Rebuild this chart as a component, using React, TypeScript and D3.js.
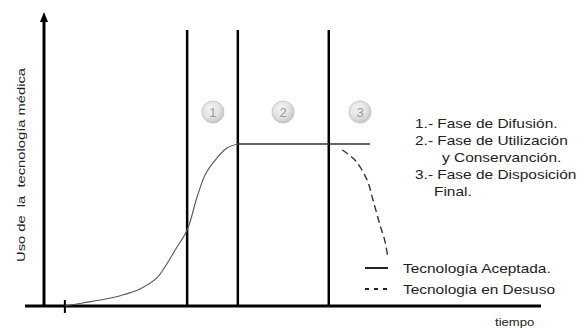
import React from "react";
import * as d3 from "d3";

// time (0-100) vs usage (0-100, plateau = 100)
const phaseBoundaries = [28.8, 39.0, 57.3];
const phaseLabels = ["1", "2", "3"];
const phaseMarkerTimes = [34.0, 48.1, 63.6];

const acceptedTime = [4.2, 7.8, 11.3, 15.5, 19.3, 22.7, 24.7, 26.4, 28.8, 30.8, 32.4, 34.0, 36.8, 39.0];
const acceptedUse = [0, 1.9, 3.7, 6.5, 10.5, 17.3, 25.9, 34.6, 46.9, 67.3, 80.9, 88.3, 97.5, 100];
const plateauTime = [39.0, 65.6];
const plateauUse = [100, 100];
const disuseTime = [60.0, 62.6, 65.0, 66.2, 67.6, 68.6, 69.2];
const disuseUse = [96.3, 90, 77.8, 65.4, 50, 40, 29.6];

const phaseTexts = [
  { t: "1.- Fase de Difusión.", dx: 0 },
  { t: "2.- Fase de Utilización", dx: 0 },
  { t: "y Conservanción.", dx: 27 },
  { t: "3.- Fase de Disposición", dx: 0 },
  { t: "Final.", dx: 19 },
];
const legendLabels = ["Tecnología Aceptada.", "Tecnologia en Desuso"];
const yLabel = "Uso de  la  tecnología médica";
const xLabel = "tiempo";

export default function App() {
  const W = 584, H = 328;
  const x = d3.scaleLinear().domain([0, 100]).range([44, 541]);
  const y = d3.scaleLinear().domain([0, 100]).range([306, 144]);
  const line = d3
    .line<[number, number]>()
    .x((d) => x(d[0]))
    .y((d) => y(d[1]))
    .curve(d3.curveCatmullRom.alpha(0.5));
  const accepted = acceptedTime.map((t, i) => [t, acceptedUse[i]] as [number, number]);
  const plateau = plateauTime.map((t, i) => [t, plateauUse[i]] as [number, number]);
  const disuse = disuseTime.map((t, i) => [t, disuseUse[i]] as [number, number]);
  const font = "'Liberation Sans', Arial, sans-serif";
  const ink = "#222";
  const sx = 1.19;

  return (
    <svg width={W} height={H} style={{ position: "absolute", left: 0, top: 0 }} fontFamily={font}>
      <defs>
        <radialGradient id="circ" cx="40%" cy="35%" r="70%">
          <stop offset="0%" stopColor="#f6f6f6" />
          <stop offset="60%" stopColor="#e0e0e0" />
          <stop offset="100%" stopColor="#c0c0c0" />
        </radialGradient>
      </defs>
      <rect width={W} height={H} fill="#fff" />
      {/* axes */}
      <line x1={25} x2={541} y1={306} y2={306} stroke="#000" strokeWidth={3} />
      <line x1={x(0)} x2={x(0)} y1={306} y2={20} stroke="#000" strokeWidth={3} />
      <path d={`M${x(0) - 4},22 L${x(0)},12 L${x(0) + 4},22 Z`} fill="#000" />
      {/* small start cross */}
      <line x1={x(acceptedTime[0])} x2={x(acceptedTime[0])} y1={300} y2={313} stroke="#000" strokeWidth={2} />
      {/* phase boundaries */}
      {phaseBoundaries.map((t, i) => (
        <line key={i} x1={x(t)} x2={x(t)} y1={30} y2={306} stroke="#000" strokeWidth={2.5} />
      ))}
      {/* phase markers */}
      {phaseMarkerTimes.map((t, i) => (
        <g key={i}>
          <circle cx={x(t)} cy={112} r={11} fill="url(#circ)" stroke="#c8c8c8" strokeWidth={1} />
          <text x={x(t)} y={112} dy="0.36em" textAnchor="middle" fontSize={13} fill="#999">
            {phaseLabels[i]}
          </text>
        </g>
      ))}
      {/* curves */}
      <path d={line(accepted) || ""} fill="none" stroke="#555" strokeWidth={1.1} />
      <path d={line(plateau) || ""} fill="none" stroke="#333" strokeWidth={1.4} />
      <path d={line(disuse) || ""} fill="none" stroke="#333" strokeWidth={1.4} strokeDasharray="7,4" />
      {/* phase text */}
      {phaseTexts.map((p, i) => (
        <g key={i} transform={`translate(${415 + p.dx},${123 + i * 17}) scale(${sx},1)`}>
          <text dy="0.35em" fontSize={13} fill={ink}>
            {p.t}
          </text>
        </g>
      ))}
      {/* legend */}
      <line x1={365} x2={388} y1={268} y2={268} stroke="#222" strokeWidth={2} />
      <line x1={365} x2={390} y1={289} y2={289} stroke="#222" strokeWidth={2} strokeDasharray="4,5" />
      {legendLabels.map((l, i) => (
        <g key={i} transform={`translate(403,${268 + i * 21}) scale(${sx},1)`}>
          <text dy="0.35em" fontSize={13} fill={ink}>{l}</text>
        </g>
      ))}
      {/* axis labels */}
      <g transform={`translate(495,322) scale(${sx},1)`}>
        <text dy="0.35em" fontSize={11} fill={ink}>{xLabel}</text>
      </g>
      <text
        transform="translate(21,165) rotate(-90)"
        textAnchor="middle"
        dy="0.35em"
        fontSize={11.5}
        fill={ink}
        textLength={194}
        lengthAdjust="spacingAndGlyphs"
        style={{ whiteSpace: "pre" }}
      >
        {yLabel}
      </text>
    </svg>
  );
}
